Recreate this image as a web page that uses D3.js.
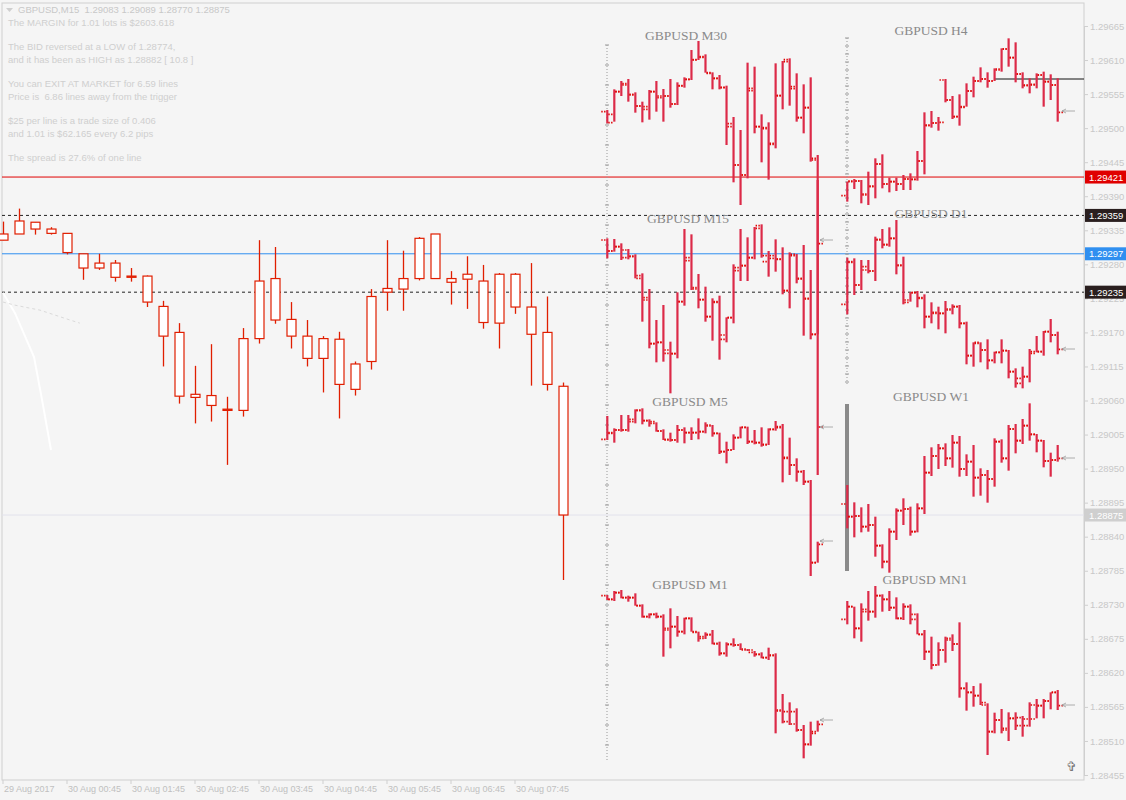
<!DOCTYPE html>
<html><head><meta charset="utf-8">
<script src="https://cdn.jsdelivr.net/npm/d3@7/dist/d3.min.js"></script>
<style>body{margin:0;background:#f5f5f5}svg{display:block}</style>
</head><body>
<svg id="c" width="1126" height="800"></svg>
<script>
// ---------- main M15 candles ----------
const timeLabels = ["29 Aug 2017","30 Aug 00:45","30 Aug 01:45","30 Aug 02:45","30 Aug 03:45","30 Aug 04:45","30 Aug 05:45","30 Aug 06:45","30 Aug 07:45"];
const highs = [1.29349,1.29370,1.29348,1.29340,1.29330,1.29297,1.29297,1.29287,1.29274,1.29262,1.29221,1.29185,1.29116,1.29151,1.29066,1.29177,1.29319,1.29308,1.29219,1.29190,1.29164,1.29171,1.29123,1.29240,1.29319,1.29302,1.29324,1.29329,1.29269,1.29293,1.29279,1.29266,1.29266,1.29282,1.29228,1.29089];
const bodyTop = [1.29329,1.29350,1.29348,1.29337,1.29330,1.29297,1.29282,1.29282,1.29261,1.29261,1.29212,1.29170,1.29070,1.29068,1.29046,1.29160,1.29253,1.29257,1.29191,1.29164,1.29160,1.29159,1.29119,1.29228,1.29241,1.29257,1.29322,1.29329,1.29257,1.29264,1.29253,1.29264,1.29264,1.29211,1.29170,1.29083];
const bodyBot = [1.29319,1.29329,1.29337,1.29330,1.29299,1.29274,1.29274,1.29259,1.29259,1.29219,1.29164,1.29067,1.29065,1.29052,1.29044,1.29044,1.29160,1.29190,1.29164,1.29128,1.29128,1.29086,1.29078,1.29123,1.29235,1.29240,1.29257,1.29257,1.29251,1.29256,1.29186,1.29185,1.29211,1.29167,1.29086,1.28875];
const lows = [1.29319,1.29329,1.29328,1.29328,1.29296,1.29255,1.29271,1.29252,1.29252,1.29211,1.29115,1.29055,1.29023,1.29026,1.28956,1.29034,1.29152,1.29184,1.29144,1.29115,1.29073,1.29031,1.29068,1.29110,1.29205,1.29205,1.29254,1.29257,1.29215,1.29208,1.29176,1.29144,1.29200,1.29084,1.29076,1.28770];
const whiteLineIdx = [0,0.75,1.94,2.44,3.0], whiteLineVal = [1.29234,1.29201,1.29130,1.29061,1.28980];
const greyLineIdx = [0,0.75,2.31,4.19,4.8], greyLineVal = [1.29219,1.29214,1.29206,1.29190,1.29185];

// ---------- levels ----------
const levelRed = 1.29421, levelDash = [1.29359,1.29235], levelBlue = 1.29297, levelBid = 1.28875;

// ---------- info text ----------
const header = "GBPUSD,M15  1.29083 1.29089 1.28770 1.28875";
const infoLines = [["The MARGIN for 1.01 lots is $2603.618",23],["The BID reversed at a LOW of 1.28774,",47],["and it has been as HIGH as 1.28882 [ 10.8 ]",60],["You can EXIT AT MARKET for 6.59 lines",84],["Price is  6.86 lines away from the trigger",97],["$25 per line is a trade size of 0.406",121],["and 1.01 is $62.165 every 6.2 pips",134],["The spread is 27.6% of one line",158]];

// ---------- mini panels: bars [high, low, open, close] in panel units (0 = panel top, 600 = panel bottom) ----------
const m30 = [[255,295,260,293],[193,290,268,200],[168,213,200,180],[162,230,176,210],[202,263,208,243],[230,292,243,245],[195,284,253,200],[168,260,200,218],[192,290,213,213],[162,248,213,237],[172,240,237,182],[157,188,183,163],[75,165,163,105],[48,105,104,97],[88,143,95,143],[142,193,145,160],[150,193,160,188],[182,360,187,305],[276,472,296,420],[315,540,420,450],[113,460,450,197],[125,325,190,305],[268,412,305,308],[292,464,311,358],[115,370,355,212],[108,253,212,110],[100,242,104,191],[145,290,185,278],[178,325,278,248],[157,410,248,400],[390,1350,405,1206]];
const m15 = [[100,160,105,138],[102,140,138,125],[115,165,125,158],[132,163,135,155],[148,220,153,212],[205,350,220,285],[252,430,278,416],[345,472,416,412],[300,470,412,435],[410,565,445,446],[262,460,446,290],[72,302,290,167],[88,255,158,252],[207,310,248,284],[245,350,284,335],[280,407,335,290],[272,464,292,390],[337,412,403,338],[178,355,338,197],[72,228,188,182],[97,228,182,158],[66,163,158,70],[58,158,62,152],[138,215,170,160],[103,200,152,162],[127,268,163,257],[142,310,257,152],[147,235,148,222],[120,392,220,282],[195,403,280,388],[-75,388,388,116]];
const m5 = [[78,150,148,130],[115,158,128,120],[75,125,120,120],[75,125,120,88],[58,100,95,60],[55,103,62,92],[88,110,92,95],[97,125,100,123],[118,150,123,148],[128,155,150,150],[105,158,150,120],[112,160,120,128],[112,150,128,128],[85,148,128,125],[97,130,125,105],[105,140,108,130],[128,192,130,185],[155,220,185,180],[133,180,180,143],[110,145,143,112],[110,162,112,155],[120,163,155,158],[112,170,158,165],[115,165,163,118],[93,122,118,110],[102,277,113,205],[143,255,202,225],[205,275,225,245],[240,285,245,275],[270,558,275,518],[455,518,518,463]];
const m1 = [[60,75,62,73],[48,78,73,53],[45,70,53,68],[62,80,68,68],[55,92,68,92],[88,128,92,125],[115,130,125,118],[113,130,118,125],[118,245,125,165],[100,220,160,155],[123,185,155,170],[128,178,170,130],[127,170,130,170],[170,200,172,190],[172,192,185,180],[165,208,178,205],[200,242,207,235],[202,245,235,208],[190,215,208,210],[205,225,210,222],[222,228,225,225],[228,245,232,238],[232,250,238,248],[218,255,248,240],[235,475,242,408],[357,445,405,440],[382,450,410,447],[400,470,410,465],[450,550,465,508],[440,512,508,475],[437,470,470,448]];
const h4 = [[470,530,512,470],[462,492,468,468],[465,535,468,507],[440,540,510,483],[400,520,485,417],[388,490,417,477],[458,502,477,470],[458,498,470,477],[450,495,477,462],[445,495,462,463],[378,467,463,408],[262,448,408,300],[258,308,302,294],[276,317,294,292],[162,232,165,225],[213,282,225,275],[208,302,275,247],[175,245,245,198],[155,217,198,168],[127,172,168,162],[142,188,162,168],[130,168,168,132],[70,140,135,72],[40,125,72,98],[52,172,98,147],[142,190,147,180],[160,205,182,180],[145,190,178,150],[140,245,150,170],[148,225,170,180],[160,290,180,262]];
const d1 = [[158,328,298,170],[160,270,172,240],[165,255,240,185],[165,205,195,198],[95,228,198,103],[72,130,105,118],[67,125,120,100],[45,208,100,180],[155,298,182,292],[262,290,285,263],[258,307,263,278],[268,370,280,335],[292,355,335,322],[305,373,325,325],[288,385,325,315],[298,328,312,305],[300,370,305,355],[350,478,355,452],[412,485,452,412],[412,472,415,435],[403,493,435,466],[440,475,466,442],[403,475,442,437],[435,520,437,500],[490,548,500,520],[485,550,535,515],[432,532,515,445],[393,442,440,440],[378,452,440,380],[342,412,380,390],[380,448,390,433]];
const w1 = [[285,415,342,380],[337,442,380,378],[352,427,378,410],[342,425,410,405],[380,500,405,467],[463,535,467,515],[415,548,515,425],[355,450,425,362],[325,405,362,357],[350,437,357,425],[340,427,425,355],[198,372,355,248],[172,258,248,198],[162,237,198,175],[160,228,175,205],[135,233,205,158],[138,260,158,237],[193,258,237,215],[165,320,215,263],[235,317,263,255],[240,338,255,267],[145,290,267,155],[148,218,155,205],[105,242,205,117],[102,190,117,152],[87,162,152,107],[40,152,107,133],[132,187,133,152],[150,232,152,213],[188,260,213,210],[165,215,210,205]];
const mn1 = [[78,148,133,95],[95,190,95,160],[85,200,160,103],[48,137,110,110],[33,128,110,62],[58,110,62,73],[48,108,73,98],[67,133,98,130],[85,135,130,95],[88,148,95,118],[115,178,133,178],[165,255,178,230],[185,283,230,270],[202,272,270,225],[185,263,225,190],[178,228,195,207],[142,368,207,340],[322,407,340,352],[333,395,352,362],[325,390,362,383],[385,540,390,470],[413,475,470,435],[402,475,435,460],[412,498,465,430],[412,465,430,428],[423,485,452,452],[382,455,432,432],[372,430,390,392],[372,430,392,378],[352,403,378,352],[345,405,352,392]];
const panels = [
 {name:"GBPUSD M30",bars:m30,x0:600,y0:25,tx:686,ty:40},
 {name:"GBPUSD M15",bars:m15,x0:600,y0:205,tx:688,ty:223},
 {name:"GBPUSD M5",bars:m5,x0:600,y0:390,tx:690,ty:406},
 {name:"GBPUSD M1",bars:m1,x0:600,y0:575,tx:690,ty:589},
 {name:"GBPUSD H4",bars:h4,x0:840,y0:25,tx:931,ty:35},
 {name:"GBPUSD D1",bars:d1,x0:840,y0:205,tx:931,ty:218},
 {name:"GBPUSD W1",bars:w1,x0:840,y0:390,tx:931,ty:401},
 {name:"GBPUSD MN1",bars:mn1,x0:840,y0:575,tx:925,ty:584}];
const arrowMarks = [[820,240],[820,427],[820,541],[820,720],[1062,111],[1062,349],[1062,458],[1062,705]];

const svg = d3.select("#c");
const plotR = 1084, plotB = 780;
const y = d3.scaleLinear().domain([1.28455,1.29665]).range([775,26]);
const x = d3.scaleLinear().domain([0,35]).range([3,563]);
const FONT = "Liberation Sans";
svg.append("rect").attr("width",1126).attr("height",800).attr("fill","#f5f5f5");

// frame
svg.append("rect").attr("x",2).attr("y",3).attr("width",plotR-2).attr("height",plotB-3).attr("fill","none").attr("stroke","#cfcfcf");

// price axis
const ticks = d3.range(0,23).map(i=>1.29665-i*0.00055);
const ax = svg.append("g").attr("transform",`translate(${plotR},0)`)
 .call(d3.axisRight(y).tickValues(ticks).tickSize(4).tickFormat(d3.format(".5f")));
ax.select(".domain").attr("stroke","#cfcfcf");
ax.selectAll("line").attr("stroke","#cfcfcf");
ax.selectAll("text").attr("fill","#c8c8c8").attr("font-family",FONT).attr("font-size",9.5).attr("x",6);

// time axis
const tx = d3.scaleLinear().domain([0,8]).range([3,515]);
const tg = svg.append("g");
timeLabels.forEach((t,i)=>{
  const xx = tx(i);
  tg.append("line").attr("x1",xx).attr("x2",xx).attr("y1",plotB).attr("y2",plotB+4).attr("stroke","#cfcfcf");
  tg.append("text").attr("x",xx+1).attr("y",792).text(t).attr("fill","#c0c0c0").attr("font-family",FONT).attr("font-size",9);
});

// levels
svg.append("line").attr("x1",2).attr("x2",plotR).attr("y1",y(levelBid)).attr("y2",y(levelBid)).attr("stroke","#e2e2ec");
svg.append("line").attr("x1",2).attr("x2",plotR).attr("y1",y(levelRed)).attr("y2",y(levelRed)).attr("stroke","#e00000");
svg.append("line").attr("x1",2).attr("x2",plotR).attr("y1",y(levelBlue)).attr("y2",y(levelBlue)).attr("stroke","#2f8ff0");
levelDash.forEach(v=>svg.append("line").attr("x1",2).attr("x2",plotR).attr("y1",y(v)).attr("y2",y(v)).attr("stroke","#222").attr("stroke-dasharray","3,3"));

// indicator lines
const line = d3.line().x(d=>x(d[0])).y(d=>y(d[1]));
svg.append("path").attr("d",line(whiteLineIdx.map((v,i)=>[v,whiteLineVal[i]]))).attr("fill","none").attr("stroke","#fff").attr("stroke-width",2);
svg.append("path").attr("d",line(greyLineIdx.map((v,i)=>[v,greyLineVal[i]]))).attr("fill","none").attr("stroke","#dadada").attr("stroke-dasharray","3,3");

// candles
const cg = svg.append("g");
highs.forEach((h,i)=>{
  const cx = Math.round(x(i))+0.5;
  cg.append("line").attr("x1",cx).attr("x2",cx).attr("y1",y(h)).attr("y2",y(lows[i])).attr("stroke","#e01e00").attr("stroke-width",1.3);
  const t=y(bodyTop[i]), b=y(bodyBot[i]);
  cg.append("rect").attr("x",cx-4.5).attr("y",t).attr("width",9).attr("height",Math.max(1,b-t)).attr("fill","#fff").attr("stroke","#e01e00").attr("stroke-width",1.2);
});

// mini panel axes
[[607,45,760],[847,38,386]].forEach(([ax0,a,b])=>{
  svg.append("line").attr("x1",ax0).attr("x2",ax0).attr("y1",a).attr("y2",b).attr("stroke","#999").attr("stroke-dasharray","1,2");
});
d3.range(45,760,20).forEach(v=>svg.append("line").attr("x1",605).attr("x2",609).attr("y1",v).attr("y2",v).attr("stroke","#999"));
d3.range(38,386,8).forEach(v=>svg.append("line").attr("x1",845).attr("x2",849).attr("y1",v).attr("y2",v).attr("stroke","#999"));
svg.append("rect").attr("x",845).attr("y",404).attr("width",4).attr("height",167).attr("fill","#8a8a8a");
svg.append("line").attr("x1",995).attr("x2",plotR).attr("y1",79).attr("y2",79).attr("stroke","#111");

// mini bars
panels.forEach(p=>{
  const px = d3.scaleLinear().domain([0,30]).range([p.x0+7.3,p.x0+217.7]);
  const py = d3.scaleLinear().domain([0,600]).range([p.y0,p.y0+200]);
  const g = svg.append("g");
  p.bars.forEach((d,i)=>{
    const bx = px(i);
    g.append("line").attr("x1",bx).attr("x2",bx).attr("y1",py(d[0])).attr("y2",py(d[1])).attr("stroke","#dc2a48").attr("stroke-width",2.2);
    g.append("line").attr("x1",bx-6).attr("x2",bx-1).attr("y1",py(d[2])).attr("y2",py(d[2])).attr("stroke","#e00000").attr("stroke-width",1.6).attr("stroke-dasharray","1.4,1.4");
    g.append("line").attr("x1",bx+1).attr("x2",bx+6).attr("y1",py(d[3])).attr("y2",py(d[3])).attr("stroke","#e00000").attr("stroke-width",1.6).attr("stroke-dasharray","1.4,1.4");
  });
  svg.append("text").attr("x",p.tx).attr("y",p.ty).attr("text-anchor","middle").text(p.name)
   .attr("fill","#8a8a8a").attr("font-family","Liberation Serif").attr("font-size",13.5);
});
arrowMarks.forEach(([ax0,ay])=>{
  svg.append("path").attr("d",`M${ax0},${ay} l4,-2 M${ax0},${ay} l4,2 M${ax0},${ay} h13`).attr("stroke","#999").attr("fill","none").attr("stroke-width",0.8);
});

// right price labels
[[levelRed,"#e00000","#fff"],[levelDash[0],"#2a1f1f","#fff"],[levelBlue,"#2f8ff0","#fff"],[levelDash[1],"#2a1f1f","#fff"],[levelBid,"#cfcfcf","#fff"]].forEach(([v,bg,fg])=>{
  svg.append("rect").attr("x",plotR+1).attr("y",y(v)-6.5).attr("width",41).attr("height",13).attr("fill",bg);
  svg.append("text").attr("x",plotR+5).attr("y",y(v)+3.5).text(d3.format(".5f")(v)).attr("fill",fg).attr("font-family",FONT).attr("font-size",9.5);
});

// info text
svg.append("path").attr("d","M6,8 h7 l-3.5,4 z").attr("fill","#cfcfcf");
svg.append("text").attr("x",18).attr("y",13).text(header).attr("fill","#c8c8c8").attr("font-family",FONT).attr("font-size",9.5).style("white-space","pre");
infoLines.forEach(([t,yy])=>svg.append("text").attr("x",8).attr("y",yy+3).text(t).attr("fill","#cfcfcf").attr("font-family",FONT).attr("font-size",9.5).style("white-space","pre"));

// corner icon
svg.append("text").attr("x",1066).attr("y",771).text("✞").attr("fill","#777").attr("font-size",13);
</script></body></html>
